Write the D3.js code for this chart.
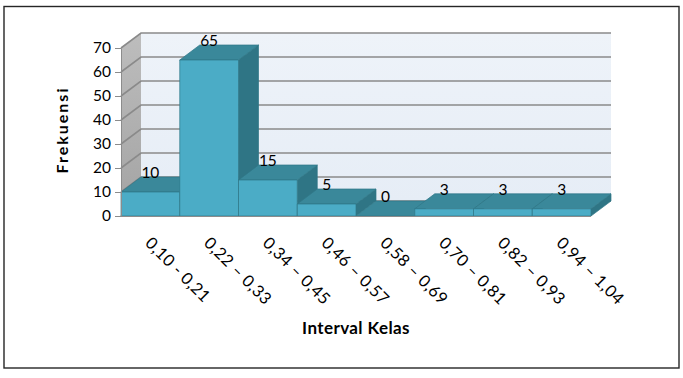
<!DOCTYPE html>
<html lang="en">
<head>
<meta charset="UTF-8">
<title>Frekuensi</title>
<style>
  body, html { margin: 0; padding: 0; background: #fff; }
  svg { display: block; }
  text { font-family: Lato, "Open Sans", sans-serif; fill: #000; }
</style>
</head>
<body>
<svg id="svg" width="683" height="378"></svg>
<script src="https://d3js.org/d3.v7.min.js"></script>
<script>
// ----- DATA -----
const categories = ['0,10 - 0,21', '0,22 – 0,33', '0,34 – 0,45', '0,46 – 0,57',
                    '0,58 – 0,69', '0,70 – 0,81', '0,82 – 0,93', '0,94 – 1,04']
const frequencies = [10, 65, 15, 5, 0, 3, 3, 3]
const yTicks = [0, 10, 20, 30, 40, 50, 60, 70]

// ----- CONSTANTS -----
const plotLeft = 121, plotRight = 591, plotBottom = 216, plotTop = 48
const dx = 20, dy = -15 // depth offset

const svg = d3.select('#svg')

// outer border
svg.append('rect')
  .attr('x', 4).attr('y', 6.5).attr('width', 675).attr('height', 361.5)
  .attr('fill', 'none').attr('stroke', '#262626').attr('stroke-width', 1.4)

// gradients
const defs = svg.append('defs')
const sideGrad = defs.append('linearGradient').attr('id', 'side')
  .attr('x1', 0).attr('y1', 1).attr('x2', 0).attr('y2', 0)
sideGrad.append('stop').attr('offset', 0).attr('stop-color', '#a3a3a3')
sideGrad.append('stop').attr('offset', 1).attr('stop-color', '#bdbdbd')
const backGrad = defs.append('linearGradient').attr('id', 'back')
  .attr('x1', 0).attr('y1', 1).attr('x2', 0).attr('y2', 0)
backGrad.append('stop').attr('offset', 0).attr('stop-color', '#e6edf6')
backGrad.append('stop').attr('offset', 1).attr('stop-color', '#eef3f9')

// -------- SCALES ------------
const xScale = d3.scaleBand()
  .domain(categories)
  .range([plotLeft, plotRight])
  .padding(0)

const yScale = d3.scaleLinear()
  .domain([0, 70])
  .range([plotBottom, plotTop])

const pts = arr => arr.map(p => p.join(',')).join(' ')

// -------- WALLS ------------
svg.append('polygon')
  .attr('points', pts([[plotLeft, plotBottom], [plotLeft, plotTop], [plotLeft + dx, plotTop + dy], [plotLeft + dx, plotBottom + dy]]))
  .attr('fill', 'url(#side)')

svg.append('polygon')
  .attr('points', pts([[plotLeft + dx, plotTop + dy], [plotRight + dx, plotTop + dy], [plotRight + dx, plotBottom + dy], [plotLeft + dx, plotBottom + dy]]))
  .attr('fill', 'url(#back)')

// gridlines on both walls
const grid = svg.append('g').attr('stroke', '#8a8a8a').attr('stroke-width', 1.6).attr('fill', 'none')
yTicks.forEach(t => {
  const y = yScale(t)
  grid.append('polyline')
    .attr('points', pts([[plotLeft, y], [plotLeft + dx, y + dy], [plotRight + dx, y + dy]]))
})

// -------- BARS ------------
const bars = svg.append('g').attr('stroke', '#2f7787').attr('stroke-width', 0.7).attr('stroke-linejoin', 'round')
categories.forEach((c, i) => {
  const x0 = xScale(c), x1 = x0 + xScale.bandwidth()
  const yt = yScale(frequencies[i]), yb = yScale(0)
  const g = bars.append('g')
  // side
  g.append('polygon')
    .attr('points', pts([[x1, yb], [x1, yt], [x1 + dx, yt + dy], [x1 + dx, yb + dy]]))
    .attr('fill', '#2f7585')
  // top
  g.append('polygon')
    .attr('points', pts([[x0, yt], [x1, yt], [x1 + dx, yt + dy], [x0 + dx, yt + dy]]))
    .attr('fill', '#3a889a')
  // front
  if (frequencies[i] > 0) {
    g.append('rect')
      .attr('x', x0).attr('y', yt)
      .attr('width', x1 - x0).attr('height', yb - yt)
      .attr('fill', '#4bacc6')
  }
})

// value labels
svg.append('g')
  .selectAll('text')
  .data(frequencies)
  .enter()
  .append('text')
  .attr('x', (d, i) => xScale(categories[i]) + xScale.bandwidth() / 2)
  .attr('y', d => yScale(d) + dy + 1)
  .attr('text-anchor', 'middle')
  .style('font-size', '15.5px')
  .text(d => d)

// -------- AXES ------------
const leftAxis = d3.axisLeft(yScale)
  .tickValues(yTicks)
  .tickSize(6)
  .tickPadding(4)
  .tickSizeOuter(0)

const ya = svg.append('g')
  .attr('transform', `translate(${plotLeft}, 0)`)
  .call(leftAxis)
ya.select('.domain').attr('stroke', '#8c8c8c')
ya.selectAll('.tick line').attr('stroke', '#8c8c8c')
ya.selectAll('.tick text').style('font-size', '15.5px').style('font-family', 'Lato')

// bottom axis line
svg.append('line')
  .attr('x1', plotLeft - 6).attr('x2', plotRight)
  .attr('y1', plotBottom + 0.5).attr('y2', plotBottom + 0.5)
  .attr('stroke', '#8c8c8c').attr('stroke-width', 1)

// category labels
svg.append('g')
  .selectAll('text')
  .data(categories)
  .enter()
  .append('text')
  .attr('transform', d => `translate(${xScale(d) + xScale.bandwidth() / 2 - 2}, 240) rotate(45)`)
  .attr('text-anchor', 'start')
  .attr('dy', '0.35em')
  .style('font-size', '16.5px')
  .style('letter-spacing', '0.4px')
  .text(d => d)

// axis titles
svg.append('text')
  .attr('transform', `translate(68, 130) rotate(-90)`)
  .attr('text-anchor', 'middle')
  .style('font-size', '16px')
  .style('font-weight', 'bold')
  .style('letter-spacing', '2px')
  .text('Frekuensi')

svg.append('text')
  .attr('x', 356)
  .attr('y', 334)
  .attr('text-anchor', 'middle')
  .style('font-size', '17px')
  .style('font-weight', 'bold')
  .style('letter-spacing', '0.4px')
  .text('Interval Kelas')
</script>
</body>
</html>
